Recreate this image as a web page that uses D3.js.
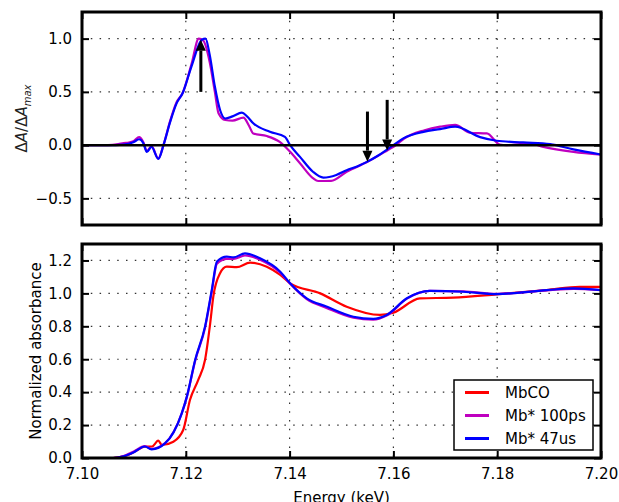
<!DOCTYPE html>
<html>
<head>
<meta charset="utf-8">
<script src="https://cdn.jsdelivr.net/npm/d3@7"></script>
<style>
body { margin: 0; background: #fff; }
text { font-family: "DejaVu Sans", sans-serif; }
</style>
</head>
<body>
<svg id="chart" width="619" height="502"></svg>
<script>
"use strict";

// Difference spectra (top panel)
const diffE47 = [7.100, 7.105, 7.108, 7.110, 7.111, 7.1118, 7.1125, 7.1134, 7.1147, 7.1157, 7.117, 7.1182, 7.1194, 7.1211, 7.1231, 7.1238, 7.1246, 7.1256, 7.1266, 7.1276, 7.129, 7.1308, 7.1318, 7.133, 7.1362, 7.1391, 7.1401, 7.142, 7.1445, 7.1465, 7.149, 7.151, 7.153, 7.155, 7.157, 7.1588, 7.160, 7.1619, 7.1658, 7.169, 7.1719, 7.1767, 7.1799, 7.185, 7.1902, 7.1947, 7.200];
const diff47 = [0, 0, 0.005, 0.03, 0.055, 0.02, -0.063, -0.016, -0.13, 0, 0.22, 0.39, 0.49, 0.74, 0.99, 1.0, 0.85, 0.55, 0.33, 0.25, 0.27, 0.305, 0.27, 0.205, 0.125, 0.078, 0.0, -0.11, -0.25, -0.305, -0.28, -0.235, -0.2, -0.155, -0.1, -0.04, 0.0, 0.063, 0.125, 0.15, 0.173, 0.075, 0.041, 0.025, 0.009, -0.04, -0.088];

const diffE100 = [7.100, 7.105, 7.107, 7.108, 7.109, 7.110, 7.111, 7.1118, 7.1125, 7.1134, 7.1147, 7.1157, 7.117, 7.1182, 7.1194, 7.1211, 7.1225, 7.1234, 7.1246, 7.1256, 7.1263, 7.1276, 7.129, 7.1311, 7.1322, 7.133, 7.1356, 7.1381, 7.1401, 7.142, 7.1445, 7.1455, 7.148, 7.151, 7.155, 7.1588, 7.1605, 7.162, 7.166, 7.169, 7.1719, 7.1748, 7.178, 7.1805, 7.1818, 7.1863, 7.1889, 7.1947, 7.200];
const diff100 = [0, 0, 0.01, 0.02, 0.025, 0.04, 0.075, 0.03, -0.055, -0.01, -0.125, 0.0, 0.23, 0.40, 0.49, 0.76, 1.0, 0.98, 0.78, 0.5, 0.30, 0.236, 0.23, 0.258, 0.18, 0.11, 0.085, 0.03, -0.063, -0.17, -0.31, -0.337, -0.335, -0.25, -0.157, -0.05, 0.0, 0.06, 0.14, 0.173, 0.19, 0.116, 0.11, 0.006, 0.0, 0.016, -0.016, -0.063, -0.09];

// Normalized absorbance (bottom panel)
const absEMbCO = [7.100, 7.106, 7.1073, 7.109, 7.1105, 7.1121, 7.1135, 7.1147, 7.1154, 7.1176, 7.1195, 7.1208, 7.1224, 7.1237, 7.1247, 7.1253, 7.1266, 7.1279, 7.1298, 7.1324, 7.1356, 7.1382, 7.1401, 7.1459, 7.151, 7.1574, 7.160, 7.1651, 7.1715, 7.1799, 7.1895, 7.1959, 7.200];
const absMbCO = [0, 0, 0.005, 0.02, 0.045, 0.069, 0.07, 0.105, 0.079, 0.099, 0.17, 0.352, 0.474, 0.595, 0.818, 0.98, 1.122, 1.162, 1.159, 1.187, 1.162, 1.112, 1.061, 1.0, 0.919, 0.869, 0.883, 0.97, 0.974, 0.994, 1.02, 1.04, 1.04];

const absEMb = [7.100, 7.106, 7.108, 7.110, 7.1121, 7.1134, 7.116, 7.1192, 7.1202, 7.1218, 7.1237, 7.125, 7.126, 7.1279, 7.1292, 7.1314, 7.1343, 7.1382, 7.1401, 7.1433, 7.1471, 7.1523, 7.1561, 7.1587, 7.1626, 7.167, 7.1735, 7.1799, 7.1895, 7.1947, 7.200];
const absMb100 = [0, 0, 0.012, 0.04, 0.072, 0.055, 0.09, 0.27, 0.37, 0.59, 0.79, 1.01, 1.18, 1.21, 1.21, 1.23, 1.205, 1.125, 1.058, 0.965, 0.912, 0.852, 0.84, 0.865, 0.968, 1.015, 1.012, 0.997, 1.018, 1.028, 1.02];
const absMb47 = [0, 0, 0.01, 0.035, 0.07, 0.053, 0.089, 0.27, 0.373, 0.595, 0.798, 1.02, 1.193, 1.223, 1.219, 1.243, 1.213, 1.132, 1.061, 0.97, 0.92, 0.858, 0.845, 0.869, 0.97, 1.015, 1.01, 0.996, 1.02, 1.03, 1.02];

// Arrows in the top panel: energy, start value, tip value
const arrowE = [7.1229, 7.155, 7.1588];
const arrowFrom = [0.5, 0.315, 0.425];
const arrowTo = [0.99, -0.155, -0.05];

// Axes ticks and labels
const xTicks = [7.10, 7.12, 7.14, 7.16, 7.18, 7.20];
const topTicks = [-0.5, 0.0, 0.5, 1.0];
const bottomTicks = [0.0, 0.2, 0.4, 0.6, 0.8, 1.0, 1.2];
const legendLabels = ["MbCO", "Mb* 100ps", "Mb* 47us"];
const legendColors = ["#ff0000", "#bf00bf", "#0000ff"];

const svg = d3.select("#chart");
const left = 82, right = 601;
const topPanel = {y0: 12, y1: 225};
const botPanel = {y0: 244, y1: 458};

const x = d3.scaleLinear().domain([7.10, 7.20]).range([left, right]);
const yTop = d3.scaleLinear().domain([-0.75, 1.25]).range([topPanel.y1, topPanel.y0]);
const yBot = d3.scaleLinear().domain([0, 1.3]).range([botPanel.y1, botPanel.y0]);

const fmt = d => d3.format(".1f")(d).replace("-", "\u2212");
const fmtX = d3.format(".2f");

function makeClip(id, p) {
	svg.append("clipPath").attr("id", id)
		.append("rect")
		.attr("x", left).attr("y", p.y0)
		.attr("width", right - left).attr("height", p.y1 - p.y0);
}
makeClip("clipTop", topPanel);
makeClip("clipBot", botPanel);

function drawGrid(y, ticks) {
	const g = svg.append("g");
	g.selectAll(".gx").data(xTicks.slice(1, -1)).enter().append("line")
		.attr("x1", d => x(d)).attr("x2", d => x(d))
		.attr("y1", y.range()[1]).attr("y2", y.range()[0])
		.style("stroke", "#333").style("stroke-width", 1.2)
		.style("stroke-dasharray", "1.5,7.3");
	g.selectAll(".gy").data(ticks).enter().append("line")
		.attr("x1", left).attr("x2", right)
		.attr("y1", d => y(d)).attr("y2", d => y(d))
		.style("stroke", "#333").style("stroke-width", 1.2)
		.style("stroke-dasharray", "1.5,7.3");
}

function drawAxes(y, ticks, showX) {
	const r = y.range();
	const ax = svg.append("g").attr("class", "axes");
	ax.append("g").attr("transform", `translate(0,${r[0]})`)
		.call(d3.axisBottom(x).tickValues(xTicks).tickSize(-7).tickPadding(10)
			.tickFormat(showX ? fmtX : ""));
	ax.append("g").attr("transform", `translate(0,${r[1]})`)
		.call(d3.axisTop(x).tickValues(xTicks).tickSize(-7).tickFormat(""));
	ax.append("g").attr("transform", `translate(${left},0)`)
		.call(d3.axisLeft(y).tickValues(ticks).tickSize(-7).tickPadding(10).tickFormat(fmt));
	ax.append("g").attr("transform", `translate(${right},0)`)
		.call(d3.axisRight(y).tickValues(ticks).tickSize(-7).tickFormat(""));
	ax.selectAll(".domain").remove();
	ax.selectAll(".tick line").style("stroke", "#000").style("stroke-width", 2);
	ax.selectAll(".tick text").style("font-size", "15px").style("fill", "#000")
		.style("font-family", "'DejaVu Sans', sans-serif");
	ax.append("rect")
		.attr("x", left).attr("y", r[1])
		.attr("width", right - left).attr("height", r[0] - r[1])
		.style("fill", "none").style("stroke", "#000").style("stroke-width", 3);
}

function drawLine(xs, ys, y, color, clip) {
	const pts = xs.map((e, i) => [e, ys[i]]);
	svg.append("path")
		.datum(pts)
		.attr("clip-path", `url(#${clip})`)
		.attr("d", d3.line().x(d => x(d[0])).y(d => y(d[1])).curve(d3.curveMonotoneX))
		.style("fill", "none").style("stroke", color).style("stroke-width", 2.2)
		.style("stroke-linejoin", "round");
}

// top panel
drawGrid(yTop, topTicks);
drawLine(diffE100, diff100, yTop, legendColors[1], "clipTop");
drawLine(diffE47, diff47, yTop, legendColors[2], "clipTop");
svg.append("line")
	.attr("x1", left).attr("x2", right)
	.attr("y1", yTop(0)).attr("y2", yTop(0))
	.style("stroke", "#000").style("stroke-width", 2.5);

const arrows = arrowE.map((e, i) => ({e, from: arrowFrom[i], to: arrowTo[i]}));
const headLen = 11, headHalf = 5;
arrows.forEach(a => {
	const ax = x(a.e), y0 = yTop(a.from), y1 = yTop(a.to);
	const dir = y1 < y0 ? -1 : 1;
	svg.append("line")
		.attr("x1", ax).attr("x2", ax)
		.attr("y1", y0).attr("y2", y1 - dir * headLen)
		.style("stroke", "#000").style("stroke-width", 3);
	svg.append("path")
		.attr("d", `M${ax},${y1} L${ax - headHalf},${y1 - dir * headLen} L${ax + headHalf},${y1 - dir * headLen} Z`)
		.style("fill", "#000");
});
drawAxes(yTop, topTicks, false);

// bottom panel
drawGrid(yBot, bottomTicks);
drawLine(absEMbCO, absMbCO, yBot, legendColors[0], "clipBot");
drawLine(absEMb, absMb100, yBot, legendColors[1], "clipBot");
drawLine(absEMb, absMb47, yBot, legendColors[2], "clipBot");
drawAxes(yBot, bottomTicks, true);

// legend
const lg = svg.append("g").attr("transform", "translate(454,380)");
lg.append("rect").attr("width", 139).attr("height", 70)
	.style("fill", "#fff").style("stroke", "#000").style("stroke-width", 1.5);
legendLabels.forEach((lab, i) => {
	const ly = 12.5 + i * 23;
	lg.append("line").attr("x1", 11).attr("x2", 35).attr("y1", ly).attr("y2", ly)
		.style("stroke", legendColors[i]).style("stroke-width", 3);
	lg.append("text").attr("x", 51).attr("y", ly + 5.5)
		.style("font-size", "15px").text(lab);
});

// axis labels
svg.append("text")
	.attr("x", (left + right) / 2).attr("y", 503)
	.attr("text-anchor", "middle").style("font-size", "15px")
	.text("Energy (keV)");

svg.append("text")
	.attr("transform", `translate(41,${(botPanel.y0 + botPanel.y1) / 2}) rotate(-90)`)
	.attr("text-anchor", "middle").style("font-size", "15px")
	.text("Normalized absorbance");

const yl = svg.append("text")
	.attr("transform", `translate(27,${(topPanel.y0 + topPanel.y1) / 2}) rotate(-90)`)
	.attr("text-anchor", "middle").style("font-size", "15px").style("fill", "#222");
yl.append("tspan").text("\u0394");
yl.append("tspan").style("font-style", "italic").text("A");
yl.append("tspan").text("/\u0394");
yl.append("tspan").style("font-style", "italic").text("A");
yl.append("tspan").style("font-style", "italic").style("font-size", "10px").attr("dy", 4).text("max");
</script>
</body>
</html>
